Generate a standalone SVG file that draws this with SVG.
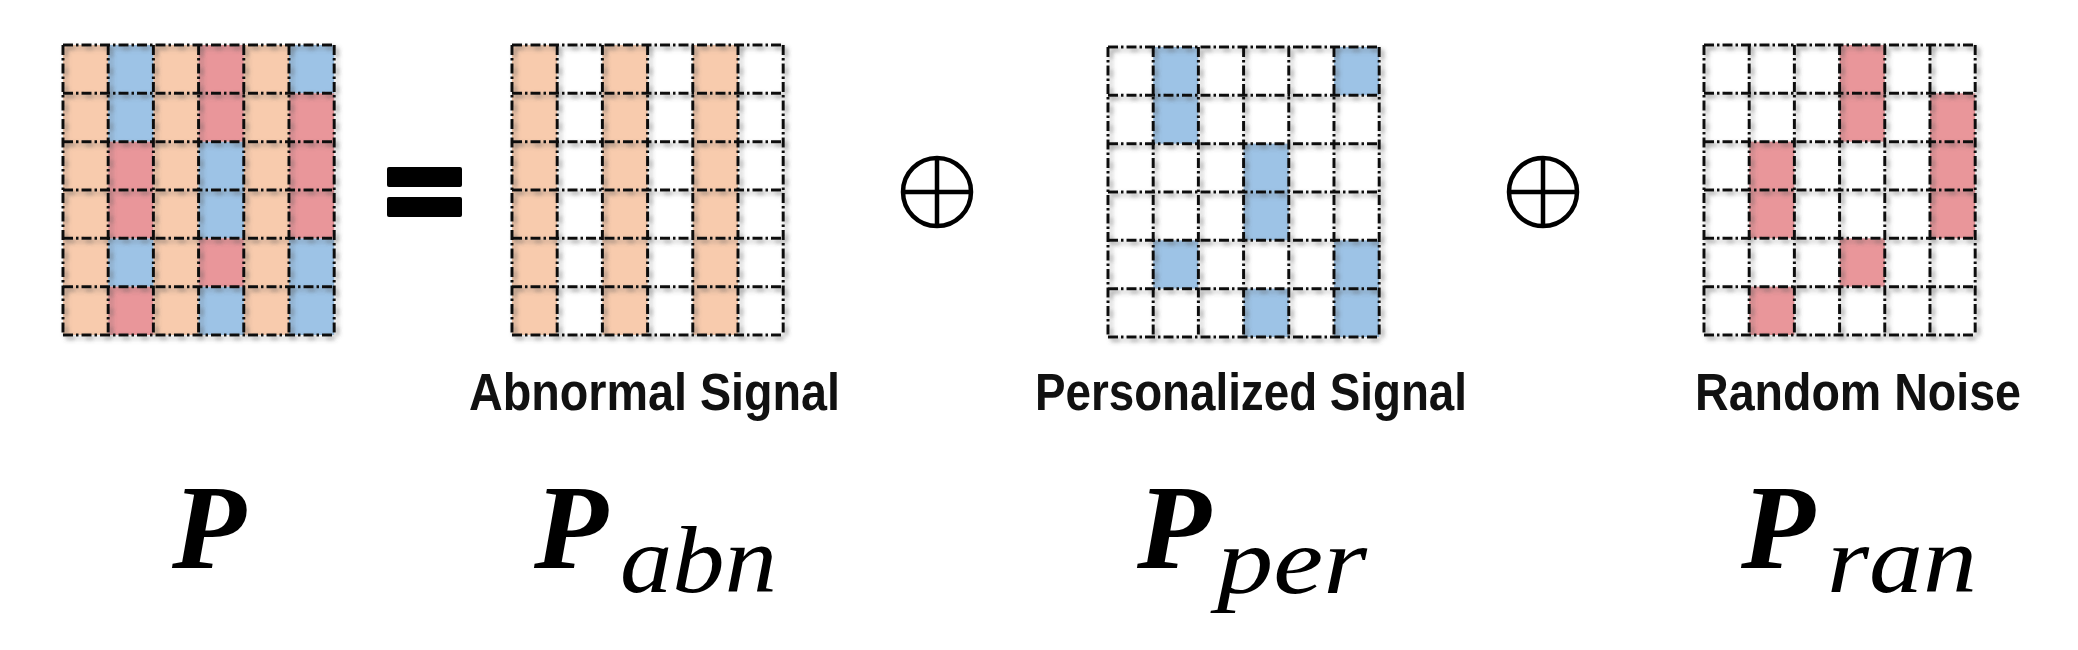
<svg xmlns="http://www.w3.org/2000/svg" xmlns:xlink="http://www.w3.org/1999/xlink" width="2078" height="650" viewBox="0 0 2078 650">
<style>
.pe{fill:#F8CBAD}
.bl{fill:#9DC3E6}
.rd{fill:#E9969A}
.gl{fill:none;stroke:#111;stroke-width:3;stroke-dasharray:10 3 2.5 3}
.lab{font-family:"Liberation Sans",Arial,sans-serif;font-weight:bold;fill:#111;font-size:51px}
.mP{font-family:"Liberation Serif","Times New Roman",serif;font-weight:bold;font-style:italic;font-size:121px;fill:#000}
.mS{font-family:"Liberation Serif","Times New Roman",serif;font-style:italic;font-size:96px;fill:#000}
.op{fill:none;stroke:#000;stroke-width:4.5}
</style>
<defs>
<filter id="sh" x="-5%" y="-5%" width="115%" height="115%">
<feDropShadow dx="3" dy="3" stdDeviation="2" flood-color="#555" flood-opacity="0.6"/>
</filter>
<g id="peach" class="pe">
<rect x="0" y="0" width="45.2" height="290"/>
<rect x="90.4" y="0" width="45.2" height="290"/>
<rect x="180.8" y="0" width="45.2" height="290"/>
</g>
<g id="blue" class="bl">
<rect x="45.2" y="0" width="45.2" height="96.67"/>
<rect x="226" y="0" width="45.2" height="48.33"/>
<rect x="135.6" y="96.67" width="45.2" height="96.67"/>
<rect x="45.2" y="193.33" width="45.2" height="48.33"/>
<rect x="226" y="193.33" width="45.2" height="96.67"/>
<rect x="135.6" y="241.67" width="45.2" height="48.33"/>
</g>
<g id="red" class="rd">
<rect x="135.6" y="0" width="45.2" height="96.67"/>
<rect x="226" y="48.33" width="45.2" height="145"/>
<rect x="45.2" y="96.67" width="45.2" height="96.67"/>
<rect x="135.6" y="193.33" width="45.2" height="48.33"/>
<rect x="45.2" y="241.67" width="45.2" height="48.33"/>
</g>
<path id="lines" class="gl" d="M0 0V290M45.2 0V290M90.4 0V290M135.6 0V290M180.8 0V290M226 0V290M271.2 0V290M0 0H271.2M0 48.33H271.2M0 96.67H271.2M0 145H271.2M0 193.33H271.2M0 241.67H271.2M0 290H271.2"/>
</defs>
<rect width="2078" height="650" fill="#fff"/>

<g id="grid-P" transform="translate(63,45)">
<use xlink:href="#peach"/><use xlink:href="#blue"/><use xlink:href="#red"/>
<use xlink:href="#lines" filter="url(#sh)"/>
</g>
<g id="grid-abn" transform="translate(512,45)">
<use xlink:href="#peach"/>
<use xlink:href="#lines" filter="url(#sh)"/>
</g>
<g id="grid-per" transform="translate(1108,47)">
<use xlink:href="#blue"/>
<use xlink:href="#lines" filter="url(#sh)"/>
</g>
<g id="grid-ran" transform="translate(1704,45)">
<use xlink:href="#red"/>
<use xlink:href="#lines" filter="url(#sh)"/>
</g>

<g id="op-equals">
<rect x="387" y="167" width="75" height="20" rx="2" fill="#000"/>
<rect x="387" y="197" width="75" height="20" rx="2" fill="#000"/>
</g>
<g id="op-plus1">
<circle class="op" cx="937" cy="192" r="34"/>
<path class="op" d="M937 158V226M903 192H971"/>
</g>
<g id="op-plus2">
<circle class="op" cx="1543" cy="192" r="34"/>
<path class="op" d="M1543 158V226M1509 192H1577"/>
</g>

<g id="labels">
<text class="lab" x="469" y="410" textLength="371" lengthAdjust="spacingAndGlyphs">Abnormal Signal</text>
<text class="lab" x="1035" y="410" textLength="432" lengthAdjust="spacingAndGlyphs">Personalized Signal</text>
<text class="lab" x="1695" y="410" textLength="326" lengthAdjust="spacingAndGlyphs">Random Noise</text>
</g>

<g id="math">
<text class="mP" x="172" y="568">P</text>
<text class="mP" x="534" y="568">P</text>
<text class="mS" x="620" y="592" textLength="157" lengthAdjust="spacingAndGlyphs">abn</text>
<text class="mP" x="1137" y="568">P</text>
<text class="mS" x="1217" y="593" textLength="150" lengthAdjust="spacingAndGlyphs">per</text>
<text class="mP" x="1741" y="568">P</text>
<text class="mS" x="1827" y="592" textLength="150" lengthAdjust="spacingAndGlyphs">ran</text>
</g>
</svg>
